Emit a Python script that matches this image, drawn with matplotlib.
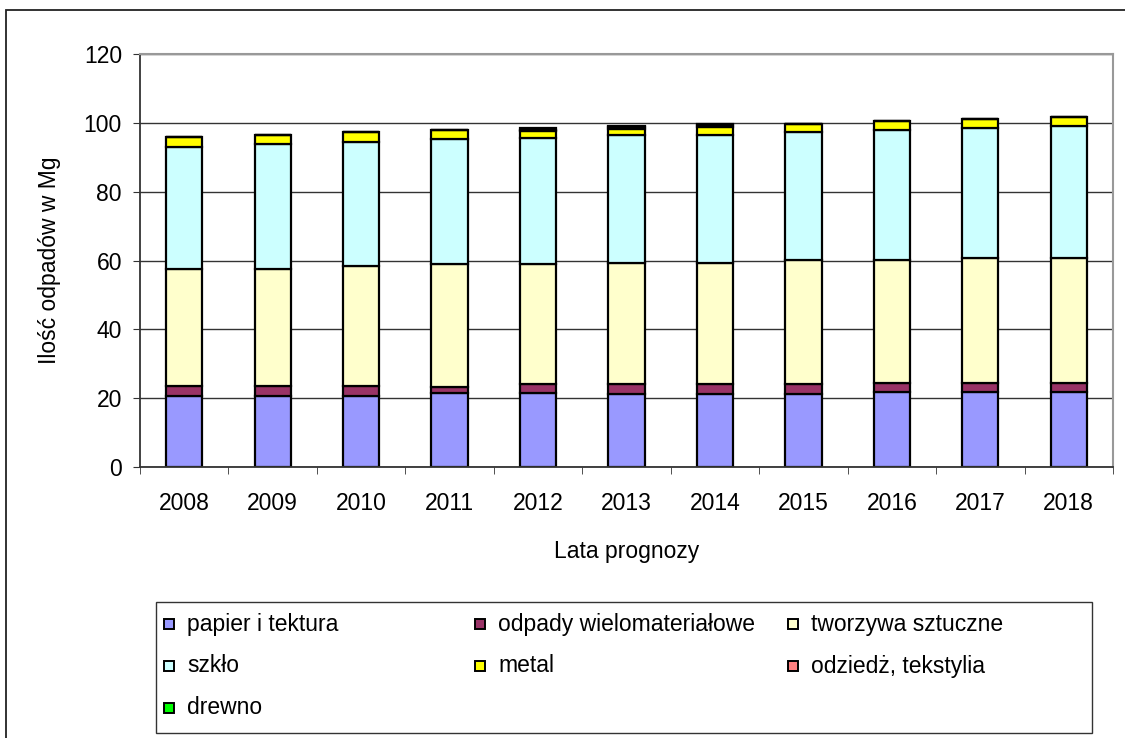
import matplotlib
matplotlib.use("Agg")
import matplotlib.pyplot as plt
import numpy as np
from matplotlib.patches import Rectangle

plt.rcParams['font.family'] = ['Liberation Sans', 'DejaVu Sans']

years = ["2008", "2009", "2010", "2011", "2012", "2013", "2014", "2015", "2016", "2017", "2018"]
papier = [20.6, 20.6, 20.6, 21.4, 21.4, 21.2, 21.2, 21.2, 21.8, 21.8, 21.8]
odpady = [2.9, 2.9, 2.9, 1.9, 2.6, 2.8, 2.8, 2.8, 2.6, 2.6, 2.6]
tworzywa = [34.1, 34.1, 34.8, 35.6, 34.9, 35.4, 35.4, 36.1, 35.7, 36.4, 36.4]
szklo = [35.4, 36.2, 36.2, 36.3, 36.8, 37.1, 37.1, 37.1, 37.7, 37.6, 38.3]
metal = [2.9, 2.8, 2.7, 2.7, 1.8, 1.7, 2.3, 2.6, 2.6, 2.7, 2.6]
odziez = [0, 0, 0, 0, 0.5, 0.5, 0.5, 0, 0, 0, 0]
drewno = [0, 0, 0, 0, 0.6, 0.4, 0.5, 0, 0, 0, 0]

series = [
    ("papier i tektura", papier, "#9999FF"),
    ("odpady wielomateriałowe", odpady, "#993366"),
    ("tworzywa sztuczne", tworzywa, "#FFFFCC"),
    ("szkło", szklo, "#CCFFFF"),
    ("metal", metal, "#FFFF00"),
    ("odziedż, tekstylia", odziez, "#FF8080"),
    ("drewno", drewno, "#00FF00"),
]

FS = 16.5
W, H = 1125, 738
fig = plt.figure(figsize=(W / 100, H / 100), dpi=100)
ax = fig.add_axes([140 / W, 1 - 467 / H, (1113 - 140) / W, (467 - 54) / H])

x = np.arange(len(years))
bottom = np.zeros(len(years))
for name, vals, col in series:
    vals = np.array(vals)
    ax.bar(x, vals, 0.41, bottom=bottom, color=col, edgecolor="black", linewidth=1.6, label=name)
    bottom += vals

ax.set_xlim(-0.5, len(years) - 0.5)
ax.set_ylim(0, 120)
ax.set_yticks(np.arange(0, 121, 20))
ax.set_xticks(x)
ax.set_xticklabels(years)
ax.set_xticks(np.arange(-0.5, len(years), 1), minor=True)
ax.tick_params(axis="x", which="major", length=0, pad=18, labelsize=FS)
ax.tick_params(axis="x", which="minor", length=5, direction="out", color="#333333")
ax.tick_params(axis="y", length=5, direction="out", labelsize=FS, color="#333333", pad=8)
ax.yaxis.grid(True, color="#333333", linewidth=1)
ax.set_axisbelow(True)
for s in ["left", "bottom"]:
    ax.spines[s].set_color("#333333")
    ax.spines[s].set_linewidth(1.3)
for s in ["top", "right"]:
    ax.spines[s].set_color("#999999")
    ax.spines[s].set_linewidth(1.5)

ax.set_xlabel("Lata prognozy", fontsize=FS, labelpad=18)
ax.set_ylabel("Ilość odpadów w Mg", fontsize=FS, labelpad=16)

# legend box, laid out in three columns like the original
fig.patches.append(Rectangle((156 / W, 1 - 733 / H), (1092 - 156) / W, (733 - 602) / H,
                             transform=fig.transFigure, fill=False, edgecolor="#333333", linewidth=1))
col_x = [164, 475, 788]
row_y = [624, 666, 708]
for i, (name, vals, col) in enumerate(series):
    cx, cy = col_x[i % 3], row_y[i // 3]
    fig.patches.append(Rectangle((cx / W, 1 - (cy + 5) / H), 10 / W, 10 / H, transform=fig.transFigure,
                                 facecolor=col, edgecolor="black", linewidth=1.4))
    fig.text((cx + 23) / W, 1 - cy / H, name, fontsize=FS, va="center", ha="left")

# outer chart border (only left and top edges lie inside the image)
fig.patches.append(Rectangle((5.5 / W, -0.1), 1.2, 1.1 - 10 / H, transform=fig.transFigure,
                             fill=False, edgecolor="#222222", linewidth=1.3))

fig.savefig("out.png", dpi=100)
